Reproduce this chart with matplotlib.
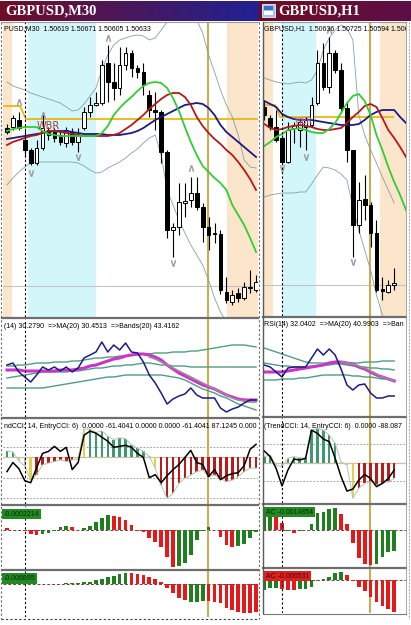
import numpy as np
import matplotlib.pyplot as plt
from matplotlib.patches import Rectangle

plt.rcParams['font.family'] = ['DejaVu Sans']
SMALL = ['Liberation Sans', 'DejaVu Sans']

W, H = 411, 625
fig = plt.figure(figsize=(W / 100, H / 100), dpi=100)
fig.patch.set_facecolor('white')

# ---------------- data: GBPUSD M30 (left window) ----------------
left_open = [1.5222, 1.5223, 1.5230, 1.5210, 1.5200, 1.5187, 1.5202, 1.5220, 1.5218, 1.5215,
             1.5207, 1.5218, 1.5208, 1.5222, 1.5238, 1.5245, 1.5247, 1.5287, 1.5268, 1.5262,
             1.5285, 1.5297, 1.5282, 1.5278, 1.5255, 1.5240, 1.5238, 1.5198, 1.5120, 1.5123,
             1.5147, 1.5150, 1.5157, 1.5143, 1.5123, 1.5117, 1.5116, 1.5058, 1.5048, 1.5057,
             1.5052, 1.5062, 1.5060]
left_high = [1.5226, 1.5235, 1.5238, 1.5220, 1.5202, 1.5210, 1.5235, 1.5223, 1.5222, 1.5220,
             1.5223, 1.5222, 1.5222, 1.5243, 1.5253, 1.5258, 1.5290, 1.5305, 1.5287, 1.5303,
             1.5303, 1.5300, 1.5285, 1.5287, 1.5260, 1.5258, 1.5240, 1.5200, 1.5127, 1.5167,
             1.5167, 1.5173, 1.5173, 1.5147, 1.5133, 1.5127, 1.5120, 1.5073, 1.5060, 1.5062,
             1.5068, 1.5080, 1.5075]
left_low = [1.5216, 1.5220, 1.5220, 1.5193, 1.5185, 1.5185, 1.5200, 1.5210, 1.5208, 1.5205,
            1.5203, 1.5205, 1.5198, 1.5220, 1.5233, 1.5244, 1.5245, 1.5248, 1.5250, 1.5255,
            1.5280, 1.5273, 1.5272, 1.5255, 1.5233, 1.5220, 1.5187, 1.5112, 1.5093, 1.5115,
            1.5133, 1.5143, 1.5140, 1.5108, 1.5100, 1.5107, 1.5056, 1.5047, 1.5045, 1.5048,
            1.5050, 1.5057, 1.5058]
left_close = [1.5218, 1.5232, 1.5222, 1.5200, 1.5187, 1.5202, 1.5222, 1.5215, 1.5212, 1.5208,
              1.5220, 1.5208, 1.5215, 1.5238, 1.5245, 1.5247, 1.5285, 1.5268, 1.5262, 1.5285,
              1.5297, 1.5282, 1.5278, 1.5265, 1.5240, 1.5238, 1.5198, 1.5120, 1.5123, 1.5148,
              1.5149, 1.5157, 1.5143, 1.5123, 1.5115, 1.5116, 1.5060, 1.5050, 1.5055, 1.5052,
              1.5063, 1.5063, 1.5068]
left_ma_fast = [1.5219, 1.5221, 1.5222, 1.5223, 1.5223, 1.5223, 1.5219, 1.5216, 1.5215, 1.5214,
                1.5214, 1.5214, 1.5214, 1.5214, 1.5214, 1.5214, 1.5217, 1.5224, 1.5235, 1.5242,
                1.5248, 1.5253, 1.5259, 1.5264, 1.5267, 1.5268, 1.5267, 1.5262, 1.5252, 1.5239,
                1.5223, 1.5208, 1.5195, 1.5184, 1.5178, 1.5172, 1.5167, 1.5160, 1.5145, 1.5135,
                1.5125, 1.5112, 1.5098]
left_ma_mid = [1.5205, 1.5208, 1.5210, 1.5212, 1.5214, 1.5215, 1.5217, 1.5219, 1.5219, 1.5218,
               1.5217, 1.5216, 1.5215, 1.5214, 1.5214, 1.5214, 1.5214, 1.5214, 1.5215, 1.5217,
               1.5221, 1.5225, 1.5230, 1.5235, 1.5241, 1.5246, 1.5251, 1.5255, 1.5257, 1.5257,
               1.5253, 1.5245, 1.5233, 1.5224, 1.5217, 1.5211, 1.5206, 1.5200, 1.5195, 1.5188,
               1.5180, 1.5171, 1.5160]
left_ma_slow = [1.5211, 1.5212, 1.5213, 1.5214, 1.5215, 1.5216, 1.5217, 1.5218, 1.5219, 1.5219,
                1.5219, 1.5218, 1.5217, 1.5216, 1.5216, 1.5216, 1.5216, 1.5215, 1.5215, 1.5215,
                1.5216, 1.5217, 1.5219, 1.5222, 1.5226, 1.5230, 1.5233, 1.5236, 1.5239, 1.5242,
                1.5245, 1.5246, 1.5247, 1.5246, 1.5242, 1.5235, 1.5225, 1.5218, 1.5213, 1.5208,
                1.5203, 1.5198, 1.5193]
left_band_up = [1.5268, 1.5264, 1.5262, 1.5260, 1.5257, 1.5255, 1.5253, 1.5251, 1.5249, 1.5247,
                1.5243, 1.5239, 1.5240, 1.5246, 1.5254, 1.5262, 1.5280, 1.5295, 1.5305, 1.5310,
                1.5312, 1.5314, 1.5315, 1.5314, 1.5310, 1.5312, 1.5320, 1.5328, 1.5335, 1.5340,
                1.5340, 1.5336, 1.5330, 1.5317, 1.5295, 1.5278, 1.5260, 1.5245, 1.5233, 1.5215,
                1.5190, 1.5183, 1.5182]
left_band_dn = [1.5165, 1.5172, 1.5178, 1.5183, 1.5187, 1.5188, 1.5188, 1.5188, 1.5188, 1.5188,
                1.5188, 1.5188, 1.5187, 1.5184, 1.5180, 1.5177, 1.5178, 1.5182, 1.5185, 1.5188,
                1.5192, 1.5197, 1.5201, 1.5207, 1.5212, 1.5215, 1.5195, 1.5160, 1.5145, 1.5130,
                1.5117, 1.5105, 1.5095, 1.5085, 1.5070, 1.5052, 1.5038, 1.5028, 1.5018, 1.5008,
                1.5000, 1.4992, 1.4985]
left_frac_up_x = [2, 6, 17, 31]
left_frac_up_y = [1.5248, 1.5235, 1.5312, 1.5182]
left_frac_dn_x = [4, 12, 28]
left_frac_dn_y = [1.5177, 1.5193, 1.5087]
left_level_x = [-0.67, 2.2, 3.2, 42.33]
left_level_y = [1.5244, 1.5244, 1.5231, 1.5231]
left_bid = 1.5064

left_rsi = [65, 67, 58, 53, 48, 55, 63, 60, 63, 59, 63, 58, 62, 72, 75, 78, 88, 78, 85, 80,
            87, 78, 77, 68, 55, 47, 37, 26, 31, 34, 36, 42, 35, 32, 32, 32, 22, 18, 21, 23,
            27, 30, 30]
left_rsi_ma = [60, 60, 60, 59, 59, 59, 59, 59, 59, 60, 60, 60, 61, 62, 64, 65, 67, 69, 71, 72,
               74, 75, 76, 76, 75, 73, 70, 65, 61, 57, 54, 51, 48, 45, 43, 41, 38, 35, 33, 31,
               30, 30, 30]
left_rsi_ma2 = [73, 71, 68, 65, 62, 59, 56, 53, 50, 47, 44, 41, 38, 35, 32, 30, 29, 28, 28]
left_rsi_bup = [64, 64, 65, 65, 66, 67, 67, 67, 68, 68, 68, 69, 69, 70, 71, 72, 72, 73, 73, 74,
                74, 75, 75, 76, 76, 77, 77, 77, 78, 78, 78, 79, 79, 80, 81, 82, 83, 84, 85, 85,
                85, 84, 83]
left_rsi_bmid = [52, 53, 54, 55, 56, 57, 58, 58, 58, 58, 58, 59, 59, 60, 61, 62, 62, 63, 64, 64,
                 65, 65, 66, 67, 67, 66, 65, 65, 64, 64, 64, 63, 63, 63, 63, 63, 63, 63, 63, 63,
                 63, 63, 63]
left_rsi_bdn = [42, 42, 42, 42, 42, 42, 42, 43, 44, 45, 46, 47, 48, 49, 50, 51, 52, 53, 53, 54,
                55, 55, 55, 55, 55, 55, 55, 54, 53, 52, 50, 47, 44, 41, 39, 37, 34, 32, 29, 26,
                24, 22, 20]

left_cci_hist = [32, 27, -18, -43, -110, -85, -37, -28, -20, -12, -20, -12, -7, 140, 140, 123,
                 132, 105, 88, 97, 93, 63, 47, 30, 5, -52, -137, -202, -178, -128, -103, -87,
                 -70, -62, -95, -87, -103, -120, -112, -95, -70, -53, -53]
left_cci_col = 'ggnnyrrrrrrrnygggggggggg' + 'nyrrrrrrrrrrrrrrrrr'
left_cci_entry = [-70, -25, -55, -115, -125, -50, 20, 30, 55, 30, 50, -60, -25, 110, 130, 120,
                  100, 80, 50, 55, 60, 50, 20, 0, -100, -85, -125, -90, -60, -35, 0, 35, -25,
                  -35, -95, -60, -110, -90, -80, -75, -40, 40, 65]
left_cci_levels = [50, -100, -200]

left_ac1 = [0.00012, 0.00002, 0.00000, -0.00008, -0.00024, -0.00028, -0.00024, -0.00018,
            -0.00004, 0.00020, 0.00022, 0.00016, 0.00002, 0.00010, 0.00026, 0.00046, 0.00072,
            0.00090, 0.00086, 0.00076, 0.00060, 0.00032, -0.00004, -0.00014, -0.00048, -0.00074,
            -0.00104, -0.00164, -0.00224, -0.00220, -0.00204, -0.00154, -0.00064, -0.00004,
            0.00020, 0.00000, -0.00040, -0.00094, -0.00104, -0.00100, -0.00088, -0.00048, -0.00010]
left_ac1_col = 'rrrrrrgggggrrgggggrrrrrrrrrrrggggggrrrrgggg'
left_ac2 = [0.00015, 0.00015, 0.00009, 0.00009, 0.00003, 0.00003, 0.00003, 0.00006, 0.00006,
            0.00006, 0.00009, 0.00009, 0.00009, 0.00018, 0.00024, 0.00039, 0.00048, 0.00063,
            0.00075, 0.00093, 0.00105, 0.00105, 0.00093, 0.00084, 0.00069, 0.00048, 0.00018,
            -0.00036, -0.00081, -0.00126, -0.00141, -0.00156, -0.00156, -0.00147, -0.00150,
            -0.00156, -0.00171, -0.00216, -0.00231, -0.00246, -0.00261, -0.00261, -0.00246]
left_ac2_col = 'rrrr' + 'ggggggggggggggggg' + 'rrrrrrrrrr' + 'ggg' + 'rrrrrrrrr'

# ---------------- data: GBPUSD H1 (right window) ----------------
right_open = [1.5243, 1.5232, 1.5223, 1.5212, 1.5188, 1.5222, 1.5220, 1.5223, 1.5225, 1.5247,
              1.5287, 1.5263, 1.5297, 1.5280, 1.5242, 1.5200, 1.5125, 1.5151, 1.5145, 1.5117,
              1.5061, 1.5058, 1.5065]
right_high = [1.5250, 1.5235, 1.5240, 1.5215, 1.5228, 1.5228, 1.5232, 1.5233, 1.5253, 1.5300,
              1.5307, 1.5313, 1.5300, 1.5287, 1.5248, 1.5200, 1.5168, 1.5175, 1.5148, 1.5130,
              1.5073, 1.5070, 1.5082]
right_low = [1.5230, 1.5220, 1.5208, 1.5187, 1.5187, 1.5207, 1.5203, 1.5200, 1.5223, 1.5245,
             1.5260, 1.5257, 1.5277, 1.5237, 1.5188, 1.5093, 1.5117, 1.5130, 1.5103, 1.5058,
             1.5050, 1.5057, 1.5060]
right_close = [1.5235, 1.5223, 1.5210, 1.5188, 1.5220, 1.5225, 1.5228, 1.5230, 1.5245, 1.5287,
               1.5263, 1.5297, 1.5280, 1.5242, 1.5200, 1.5125, 1.5150, 1.5145, 1.5117, 1.5060,
               1.5059, 1.5065, 1.5067]
right_ma_fast = [1.5204, 1.5208, 1.5213, 1.5216, 1.5220, 1.5221, 1.5222, 1.5220, 1.5218, 1.5217,
                 1.5217, 1.5221, 1.5227, 1.5237, 1.5247, 1.5254, 1.5256, 1.5249, 1.5235, 1.5215,
                 1.5200, 1.5183, 1.5168, 1.5155, 1.5140, 1.5128]
right_ma_mid = [1.5226, 1.5222, 1.5220, 1.5221, 1.5223, 1.5224, 1.5225, 1.5224, 1.5223, 1.5221,
                1.5220, 1.5220, 1.5221, 1.5222, 1.5227, 1.5233, 1.5238, 1.5244, 1.5246, 1.5243,
                1.5232, 1.5220, 1.5212, 1.5203, 1.5193, 1.5185]
right_ma_slow = [1.5249, 1.5246, 1.5243, 1.5236, 1.5233, 1.5231, 1.5230, 1.5230, 1.5230, 1.5229,
                 1.5228, 1.5227, 1.5226, 1.5225, 1.5225, 1.5225, 1.5226, 1.5230, 1.5235, 1.5238,
                 1.5240, 1.5240, 1.5240, 1.5233, 1.5227, 1.5223]
right_band_up = [1.5272, 1.5270, 1.5268, 1.5267, 1.5266, 1.5267, 1.5268, 1.5267, 1.5270, 1.5280,
                 1.5300, 1.5312, 1.5320, 1.5325, 1.5322, 1.5310, 1.5235, 1.5215, 1.5200, 1.5187,
                 1.5173, 1.5160, 1.5147]
right_band_dn = [1.5153, 1.5155, 1.5156, 1.5157, 1.5157, 1.5157, 1.5158, 1.5158, 1.5166, 1.5175,
                 1.5183, 1.5182, 1.5180, 1.5176, 1.5170, 1.5143, 1.5120, 1.5100, 1.5080, 1.5055,
                 1.5035, 1.5020, 1.5005]
right_frac_up_x = [11]
right_frac_up_y = [1.5320]
right_frac_dn_x = [3, 7, 15]
right_frac_dn_y = [1.5182, 1.5193, 1.5088]
right_level_x = [-0.22, 1.8, 2.7, 21.8]
right_level_y = [1.5245, 1.5245, 1.5233, 1.5233]
right_bid = 1.5065

right_rsi = [65, 63, 58, 53, 62, 63, 63, 63, 72, 81, 75, 81, 75, 61, 45, 40, 45, 46, 37, 32,
             32, 34, 34]
right_rsi_ma = [58, 58, 58, 58, 59, 60, 61, 62, 63, 64, 65, 67, 68, 68, 67, 66, 63, 61, 58, 55,
                53, 51, 49]
right_rsi_ma2 = [68, 67, 66, 64, 62, 59, 56, 53, 51, 49]
right_rsi_bup = [82, 80, 78, 76, 74, 72, 70, 68, 67, 67, 67, 67, 67, 67, 67, 67, 67, 68, 68, 68,
                 69, 69, 69]
right_rsi_bmid = [67, 66, 65, 64, 64, 63, 63, 63, 64, 64, 65, 65, 66, 66, 65, 64, 63, 63, 62, 62,
                  61, 61, 60]
right_rsi_bdn = [50, 50, 50, 51, 51, 51, 52, 52, 53, 54, 55, 55, 55, 55, 55, 54, 54, 53, 53, 52,
                 51, 51, 50]

right_cci_hist = [33, 42, -13, -22, 24, 33, 27, 24, 178, 187, 178, 151, 106, 5, -13, -195, -140,
                  -113, -104, -122, -113, -104, -86]
right_cci_col = 'ggnnggggggggg' + 'nny' + 'rrrrrrr'
right_cci_entry = [64, 33, -31, -127, -40, 20, 15, 24, 178, 160, 129, 115, 24, -76, -155, -144,
                   -95, -64, -86, -131, -113, -86, -40]
right_cci_levels = [100, -100]

right_ac1 = [0.00129, 0.00129, 0.00129, 0.00060, -0.00012, -0.00030, -0.00012, -0.00006, 0.00048,
             0.00144, 0.00159, 0.00180, 0.00189, 0.00138, 0.00048, -0.00120, -0.00246, -0.00300,
             -0.00315, -0.00300, -0.00240, -0.00201, -0.00186]
right_ac1_col = 'ggrrgrgggggggrrrrrrgggg'
right_ac2 = [-0.00150, -0.00125, -0.00125, -0.00140, -0.00150, -0.00150, -0.00140, -0.00140,
             -0.00110, -0.00010, 0.00010, 0.00050, 0.00100, 0.00115, 0.00075, -0.00010, -0.00100,
             -0.00175, -0.00260, -0.00340, -0.00390, -0.00440, -0.00490]
right_ac2_col = 'gggrrrgggggggg' + 'rrrrrrrrr'

# ---------------- style ----------------
CYAN = '#d3f6fb'
PEACH = '#fbe5cb'
GOLD_V = '#c9ab58'
GOLD_H = '#e8b912'
CCI_COL = {'g': '#3d9a6e', 'r': '#b51c1c', 'y': '#e6d04a', 'n': '#c2c2b4'}
AC_COL = {'g': '#1f7f1f', 'r': '#e41a1a'}
SEP = '#6e6e6e'
HDR = 5.0


def panel(x0, y0, x1, y1, xlim, ylim):
    ax = fig.add_axes([x0 / W, 1 - y1 / H, (x1 - x0) / W, (y1 - y0) / H])
    ax.set_xlim(*xlim)
    ax.set_ylim(*ylim)
    ax.set_xticks([])
    ax.set_yticks([])
    for s in ax.spines.values():
        s.set_visible(False)
    return ax


def vmarks(ax, xdot, xgold):
    ax.axvline(xgold, color=GOLD_V, lw=1.5, zorder=1.5)
    ax.axvline(xdot, color='black', ls=(0, (2, 2)), lw=0.8, zorder=7)


def header(ax, text, dy=7):
    ax.annotate(text, (0, 1), xycoords='axes fraction', xytext=(1, -dy),
                textcoords='offset pixels', fontsize=HDR, family=SMALL, va='center',
                ha='left', zorder=10, annotation_clip=False, clip_on=True)


def price_panel(ax, o, h, l, c, fast, mid, slow, bup, bdn, fux, fuy, fdx, fdy,
                lvx, lvy, bid, spans, xdot, xgold):
    o, h, l, c = map(np.array, (o, h, l, c))
    x = np.arange(len(o))
    for a, b, col in spans:
        ax.axvspan(a, b, color=col, lw=0, zorder=0)
    vmarks(ax, xdot, xgold)
    ax.axhline(bid, color='#c4c4c4', lw=0.8, zorder=1)
    ax.plot(lvx, lvy, color=GOLD_H, lw=1.3, zorder=2)
    xm = np.arange(len(bup))
    ax.plot(xm, bup, color='#7fa3a3', lw=0.6, zorder=2)
    ax.plot(xm, bdn, color='#7fa3a3', lw=0.6, zorder=2)
    ax.vlines(x, l, h, color='black', lw=0.8, zorder=4)
    up = c >= o
    ax.bar(x[up], np.maximum(c - o, 0.00003)[up], bottom=o[up], width=0.62,
           color='white', edgecolor='black', lw=0.7, zorder=5)
    ax.bar(x[~up], (o - c)[~up], bottom=c[~up], width=0.62,
           color='black', edgecolor='black', lw=0.7, zorder=5)
    xs = np.arange(len(fast))
    ax.plot(xs, slow, color='#1b1b84', lw=1.3, zorder=6)
    ax.plot(xs, mid, color='#b21a1a', lw=1.3, zorder=6)
    ax.plot(xs, fast, color='#33cc33', lw=1.3, zorder=6)
    ax.plot(fux, fuy, ls='none', marker=r'$\wedge$', ms=4.5, mew=0.3, color='#9a9a9a', zorder=6)
    ax.plot(fdx, fdy, ls='none', marker=r'$\vee$', ms=4.5, mew=0.3, color='#9a9a9a', zorder=6)


def rsi_panel(ax, rsi, ma, ma2, bup, bmid, bdn, xdot, xgold):
    x = np.arange(len(rsi))
    vmarks(ax, xdot, xgold)
    for b in (bup, bmid, bdn):
        ax.plot(x, b, color='#4e9e80', lw=1.0, zorder=2)
    ax.plot(x, ma, color='#cc33cc', lw=2.2, zorder=3)
    ax.plot(x[len(x) - len(ma2):], ma2, color='#9a8a9a', lw=1.2, zorder=3)
    ax.plot(x, rsi, color='#1b1b84', lw=1.1, zorder=4)


def cci_panel(ax, hist, cols, entry, levels, xdot, xgold):
    x = np.arange(len(hist))
    vmarks(ax, xdot, xgold)
    for lv in levels:
        ax.axhline(lv, color='#8c8c8c', ls=(0, (2, 2)), lw=0.6, zorder=1)
    ax.axhline(0, color='#cdbfa6', lw=0.9, zorder=1)
    ax.bar(x, hist, width=0.42, color=[CCI_COL[k] for k in cols], lw=0, zorder=2)
    ax.plot(x, hist, color='#b9cdb0', lw=0.8, zorder=3)
    ax.plot(x, entry, color='black', lw=1.1, zorder=4)


def ac_panel(ax, vals, cols, xdot, xgold):
    x = np.arange(len(vals))
    vmarks(ax, xdot, xgold)
    ax.axhline(0, color='#7a3a3a', ls=(0, (3, 2)), lw=0.7, zorder=1)
    ax.bar(x, vals, width=0.62, color=[AC_COL[k] for k in cols], lw=0, zorder=2)


# ---------------- left window ----------------
LX = (-0.67, 42.33)
l_spans = [(-0.67, 0.84, PEACH), (3.54, 15.0, CYAN), (37.1, 42.33, PEACH)]
axp = panel(3, 22, 258, 317, LX, (1.5033, 1.5328))
price_panel(axp, left_open, left_high, left_low, left_close, left_ma_fast, left_ma_mid,
            left_ma_slow, left_band_up, left_band_dn, left_frac_up_x, left_frac_up_y,
            left_frac_dn_x, left_frac_dn_y, left_level_x, left_level_y, left_bid,
            l_spans, 3.12, 33.9)
axp.text(5.0, 1.5224, 'WBR', color='#a53a3a', fontsize=7, zorder=8, va='center')
header(axp, 'PUSD,M30  1.50619 1.50671 1.50605 1.50633')

axr = panel(3, 319, 258, 417, LX, (13, 111))
rsi_panel(axr, left_rsi, left_rsi_ma, left_rsi_ma2, left_rsi_bup, left_rsi_bmid,
          left_rsi_bdn, 3.12, 33.9)
header(axr, '(14) 30.2790  =>MA(20) 30.4513  =>Bands(20) 43.4162')

axc = panel(3, 419, 258, 504, LX, (-230, 190))
cci_panel(axc, left_cci_hist, left_cci_col, left_cci_entry, left_cci_levels, 3.12, 33.9)
header(axc, 'ndCCI: 14, EntryCCI: 6)  0.0000 -61.4041 0.0000 0.0000 -61.4041 87.1245 0.000')

axa1 = panel(3, 506, 258, 569, LX, (-0.00238, 0.00146))
ac_panel(axa1, left_ac1, left_ac1_col, 3.12, 33.9)
axa2 = panel(3, 571, 258, 617, LX, (-0.00294, 0.0012))
ac_panel(axa2, left_ac2, left_ac2_col, 3.12, 33.9)

# ---------------- right window ----------------
RX = (-0.22, 24.0)
r_spans = [(-0.22, 1.47, PEACH), (3.0, 8.76, CYAN), (19.6, 24.0, PEACH)]
bxp = panel(263, 22, 406, 316, RX, (1.5034, 1.5328))
price_panel(bxp, right_open, right_high, right_low, right_close, right_ma_fast, right_ma_mid,
            right_ma_slow, right_band_up, right_band_dn, right_frac_up_x, right_frac_up_y,
            right_frac_dn_x, right_frac_dn_y, right_level_x, right_level_y, right_bid,
            r_spans, 3.0, 17.9)
bxp.text(5.2, 1.5228, 'WBR', color='#c86a8a', fontsize=5.5, zorder=8, va='center')
header(bxp, 'GBPUSD,H1  1.50636 1.50725 1.50594 1.506')

bxr = panel(263, 318, 406, 416, RX, (14, 112))
rsi_panel(bxr, right_rsi, right_rsi_ma, right_rsi_ma2, right_rsi_bup, right_rsi_bmid,
          right_rsi_bdn, 3.0, 17.9)
header(bxr, 'RSI(14) 32.0402  =>MA(20) 40.9903  =>Ban')

bxc = panel(263, 418, 406, 503, RX, (-220, 244))
cci_panel(bxc, right_cci_hist, right_cci_col, right_cci_entry, right_cci_levels, 3.0, 17.9)
header(bxc, '(TrendCCI: 14, EntryCCI: 6)  0.0000 -88.087', dy=8)

bxa1 = panel(263, 504, 406, 567, RX, (-0.0033, 0.00228))
ac_panel(bxa1, right_ac1, right_ac1_col, 3.0, 17.9)
bxa2 = panel(263, 568, 406, 613, RX, (-0.0050, 0.0018))
ac_panel(bxa2, right_ac2, right_ac2_col, 3.0, 17.9)

# ---------------- frames, title bars, labels (pixel overlay) ----------------
ov = fig.add_axes([0, 0, 1, 1], zorder=20)
ov.axis('off')
ov.patch.set_alpha(0)


def title_bar(x0, x1, c0, c1):
    g = np.linspace(0, 1, 200)[:, None]
    cols = np.array(c0)[None, :] * (1 - g) + np.array(c1)[None, :] * g
    ov.imshow(cols[None, :, :], extent=[x0, x1, 21, 1], aspect='auto', zorder=1)


title_bar(0, 258, (0.44, 0.05, 0.15), (0.13, 0.13, 0.58))
title_bar(259, 411, (0.43, 0.05, 0.13), (0.36, 0.06, 0.28))
ov.set_xlim(0, W)
ov.set_ylim(H, 0)
ov.text(5, 11.5, 'GBPUSD,M30', color='white', fontsize=10.5, fontweight='bold',
        family='Liberation Serif', va='center', ha='left', zorder=3)
ov.add_patch(Rectangle((262, 4), 13, 13, fc='#9cc4ee', ec='#e8f0ff', lw=0.6, zorder=3))
ov.add_patch(Rectangle((264, 6), 9, 4, fc='#3c6cc0', lw=0, zorder=4))
ov.add_patch(Rectangle((264, 11), 9, 4, fc='#ffffff', lw=0, zorder=4))
ov.text(278, 11.5, 'GBPUSD,H1', color='white', fontsize=10.5, fontweight='bold',
        family='Liberation Serif', va='center', ha='left', zorder=3)

# panel separators
for y in (318, 418, 505, 570):
    ov.plot([2, 258], [y, y], color=SEP, lw=1.6, zorder=2)
for y in (317, 417, 503.5, 567.5):
    ov.plot([263, 406], [y, y], color=SEP, lw=1.6, zorder=2)
ov.plot([2, 258], [22, 22], color='#9a9a9a', lw=0.8, zorder=2)
ov.plot([263, 406], [22, 22], color='#9a9a9a', lw=0.8, zorder=2)
ov.plot([263, 263], [22, 613], color='#5a5a5a', lw=1.0, zorder=2)
ov.plot([406, 406], [22, 613], color='#9a9a9a', lw=0.6, zorder=2)
ov.plot([263, 406], [613.5, 613.5], color='#7a7a7a', lw=0.8, zorder=2)
# window frames
ov.plot([1.2, 1.2], [22, 619], color='#6a6a6a', lw=0.8, ls=(0, (2, 2)), zorder=2)
ov.plot([258.5, 258.5], [22, 619], color='#6a6a6a', lw=0.8, ls=(0, (2, 2)), zorder=2)
ov.plot([1, 258.5], [618.5, 618.5], color='#3a3a3a', lw=0.8, ls=(0, (2, 2)), zorder=2)
ov.plot([408.5, 408.5], [22, 619], color='#8a8a8a', lw=0.6, ls=(0, (2, 2)), zorder=2)

# AC value labels
box = dict(boxstyle='square,pad=0.25', lw=0)
ov.text(4, 514, '-0.0002214', fontsize=5.0, family=SMALL, va='center', color='#0a2a0a',
        bbox=dict(box, fc='#228a22'), zorder=5)
ov.text(4, 578.5, '-0.006895', fontsize=5.0, family=SMALL, va='center', color='#0a2a0a',
        bbox=dict(box, fc='#228a22'), zorder=5)
ov.text(266, 512, 'AC -0.0014854', fontsize=5.0, family=SMALL, va='center', color='#0a2a0a',
        bbox=dict(box, fc='#228a22'), zorder=5)
ov.text(266, 576, 'AC -0.006531', fontsize=5.0, family=SMALL, va='center', color='#3a0a0a',
        bbox=dict(box, fc='#e02020'), zorder=5)

fig.savefig('out.png', dpi=100, facecolor='white')
